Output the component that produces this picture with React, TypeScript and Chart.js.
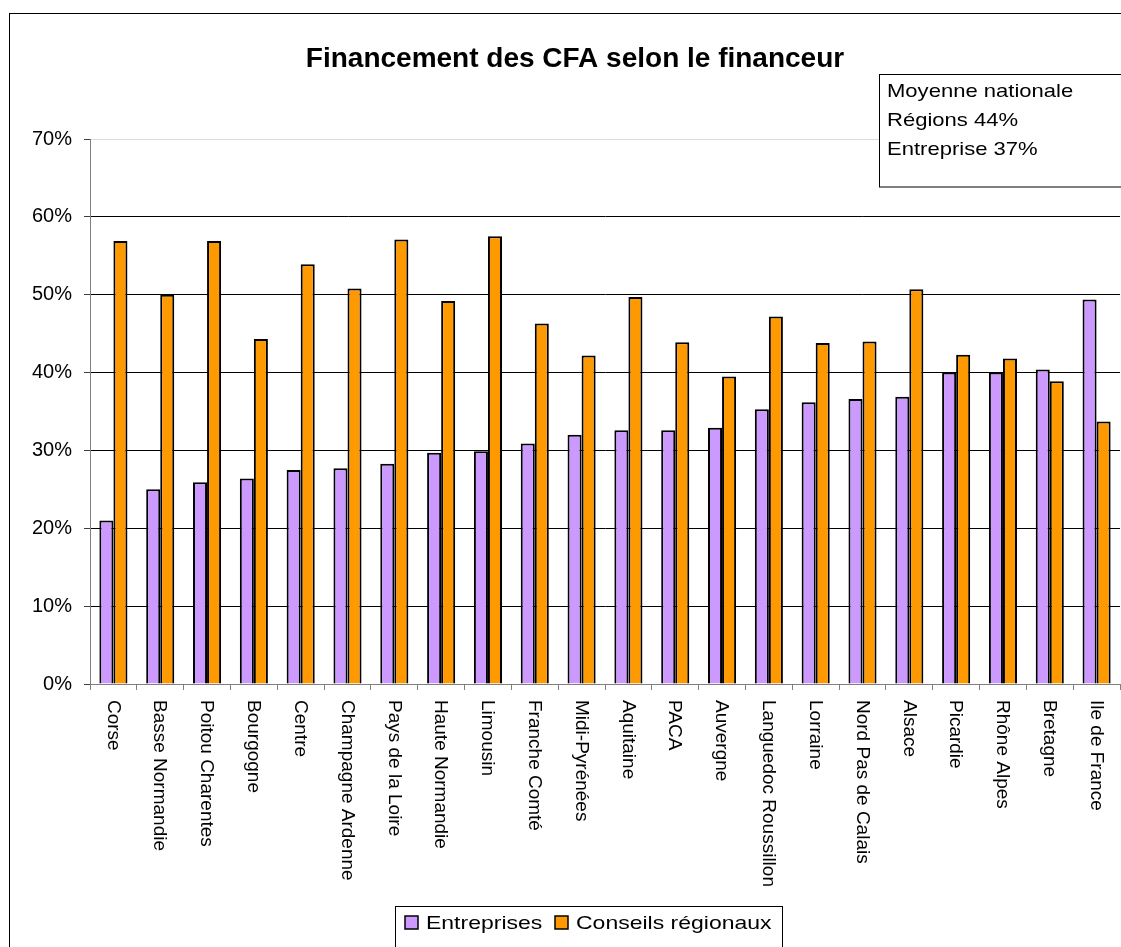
import React, { useEffect, useRef } from "react";
import { Chart, registerables } from "chart.js";

Chart.register(...registerables);

const chartTitle = "Financement des CFA selon le financeur";
const categories = [
  "Corse", "Basse Normandie", "Poitou Charentes", "Bourgogne", "Centre",
  "Champagne Ardenne", "Pays de la Loire", "Haute Normandie", "Limousin",
  "Franche Comté", "Midi-Pyrénées", "Aquitaine", "PACA", "Auvergne",
  "Languedoc Roussillon", "Lorraine", "Nord Pas de Calais", "Alsace",
  "Picardie", "Rhône Alpes", "Bretagne", "Ile de France",
];
const seriesNames = ["Entreprises", "Conseils régionaux"];
const entreprises = [
  21.0, 25.0, 25.9, 26.4, 27.5, 27.7, 28.3, 29.7, 29.9, 30.9, 32.0,
  32.6, 32.6, 32.9, 35.3, 36.2, 36.6, 36.9, 40.0, 40.0, 40.4, 49.4,
];
const conseils = [
  56.9, 50.0, 56.9, 44.3, 53.9, 50.8, 57.1, 49.2, 57.5, 46.3, 42.2,
  49.7, 43.9, 39.5, 47.2, 43.8, 44.0, 50.7, 42.3, 41.8, 38.9, 33.7,
];
const noteLines = ["Moyenne nationale", "Régions 44%", "Entreprise 37%"];
const yMin = 0;
const yMax = 70;
const yStep = 10;

const FONT = '"Liberation Sans", Arial, Helvetica, sans-serif';
const PURPLE = "#CC99FF";
const ORANGE = "#FF9900";

function drawText(ctx: CanvasRenderingContext2D, text: string, x: number, y: number, font: string, sx: number) {
  ctx.save();
  ctx.font = font;
  ctx.fillStyle = "#000";
  ctx.textAlign = "left";
  ctx.textBaseline = "alphabetic";
  ctx.translate(x, y);
  ctx.scale(sx, 1);
  ctx.fillText(text, 0, 0);
  ctx.restore();
}

const decorations = {
  id: "decorations",
  beforeDraw(chart: any) {
    const ctx = chart.ctx as CanvasRenderingContext2D;
    ctx.save();
    ctx.fillStyle = "#fff";
    ctx.fillRect(0, 0, chart.width, chart.height);
    ctx.strokeStyle = "#000";
    ctx.lineWidth = 1;
    ctx.strokeRect(9.5, 13.5, 1300, 1100);
    ctx.restore();
  },
  afterDraw(chart: any) {
    const ctx = chart.ctx as CanvasRenderingContext2D;
    // title
    ctx.save();
    ctx.font = `bold 28px ${FONT}`;
    ctx.fillStyle = "#000";
    ctx.textAlign = "center";
    ctx.textBaseline = "alphabetic";
    ctx.fillText(chartTitle, 575, 67);
    ctx.restore();

    // note box
    ctx.save();
    ctx.fillStyle = "#fff";
    ctx.fillRect(879.5, 74.5, 300, 112.5);
    ctx.strokeStyle = "#000";
    ctx.lineWidth = 1;
    ctx.strokeRect(879.5, 74.5, 300, 112.5);
    ctx.restore();
    const noteY = [97, 126, 155];
    noteLines.forEach((t, i) => drawText(ctx, t, 887, noteY[i], `19px ${FONT}`, 1.16));

    // legend
    ctx.save();
    ctx.fillStyle = "#fff";
    ctx.fillRect(395.5, 906.5, 387, 80);
    ctx.strokeStyle = "#000";
    ctx.lineWidth = 1;
    ctx.strokeRect(395.5, 906.5, 387, 80);
    const colors = [PURPLE, ORANGE];
    const mx = [405, 555];
    const tx = [426, 576];
    seriesNames.forEach((n, i) => {
      ctx.fillStyle = colors[i];
      ctx.fillRect(mx[i], 916, 13, 13);
      ctx.strokeStyle = "#000";
      ctx.lineWidth = 1.5;
      ctx.strokeRect(mx[i], 916, 13, 13);
      drawText(ctx, n, tx[i], 928.5, `19px ${FONT}`, 1.21);
    });
    ctx.restore();

    // rotated category labels (top-to-bottom)
    const xs = chart.scales.x;
    ctx.save();
    ctx.font = `19px ${FONT}`;
    ctx.fillStyle = "#000";
    ctx.textAlign = "left";
    ctx.textBaseline = "middle";
    categories.forEach((c, i) => {
      const px = xs.getPixelForValue(i);
      ctx.save();
      ctx.translate(px - 0.5, 700);
      ctx.rotate(Math.PI / 2);
      ctx.fillText(c, 0, 0);
      ctx.restore();
    });
    ctx.restore();
  },
};

export default function App() {
  const ref = useRef<HTMLCanvasElement | null>(null);
  useEffect(() => {
    if (!ref.current) return;
    const chart = new Chart(ref.current, {
      type: "bar",
      data: {
        labels: categories,
        datasets: [
          {
            label: seriesNames[0],
            data: entreprises,
            backgroundColor: PURPLE,
            borderColor: "#000",
            borderWidth: 2,
            categoryPercentage: 0.6,
            barPercentage: 1.0,
          },
          {
            label: seriesNames[1],
            data: conseils,
            backgroundColor: ORANGE,
            borderColor: "#000",
            borderWidth: 2,
            categoryPercentage: 0.6,
            barPercentage: 1.0,
          },
        ],
      },
      options: {
        responsive: false,
        animation: false,
        devicePixelRatio: 1,
        layout: { padding: { top: 139, left: 0, right: 1, bottom: 0 } },
        plugins: {
          legend: { display: false },
          title: { display: false },
          tooltip: { enabled: false },
        },
        scales: {
          x: {
            type: "category",
            offset: true,
            grid: {
              offset: true,
              drawOnChartArea: false,
              drawTicks: true,
              tickLength: 6,
              color: "#808080",
            },
            border: { color: "#808080", width: 1 },
            ticks: { display: false },
            afterFit: (s: any) => {
              s.height = 263;
            },
          },
          y: {
            min: yMin,
            max: yMax,
            ticks: {
              stepSize: yStep,
              callback: (v: any) => `${v}%`,
              font: { size: 20, family: FONT },
              color: "#000",
              padding: 12,
            },
            grid: {
              color: (c: any) =>
                c.tick && c.tick.value === yMax ? "#dcdcdc" : c.tick && c.tick.value === 0 ? "#808080" : "#000",
              tickColor: "#404040",
              tickLength: 6,
              lineWidth: 1,
            },
            border: { color: "#808080", width: 1 },
            afterFit: (s: any) => {
              s.width = 90;
            },
          },
        },
      },
      plugins: [decorations],
    });
    return () => chart.destroy();
  }, []);
  return (
    <div style={{ position: "absolute", left: 0, top: 0, width: 1121, height: 947 }}>
      <canvas ref={ref} width={1121} height={947} style={{ display: "block" }} />
    </div>
  );
}
